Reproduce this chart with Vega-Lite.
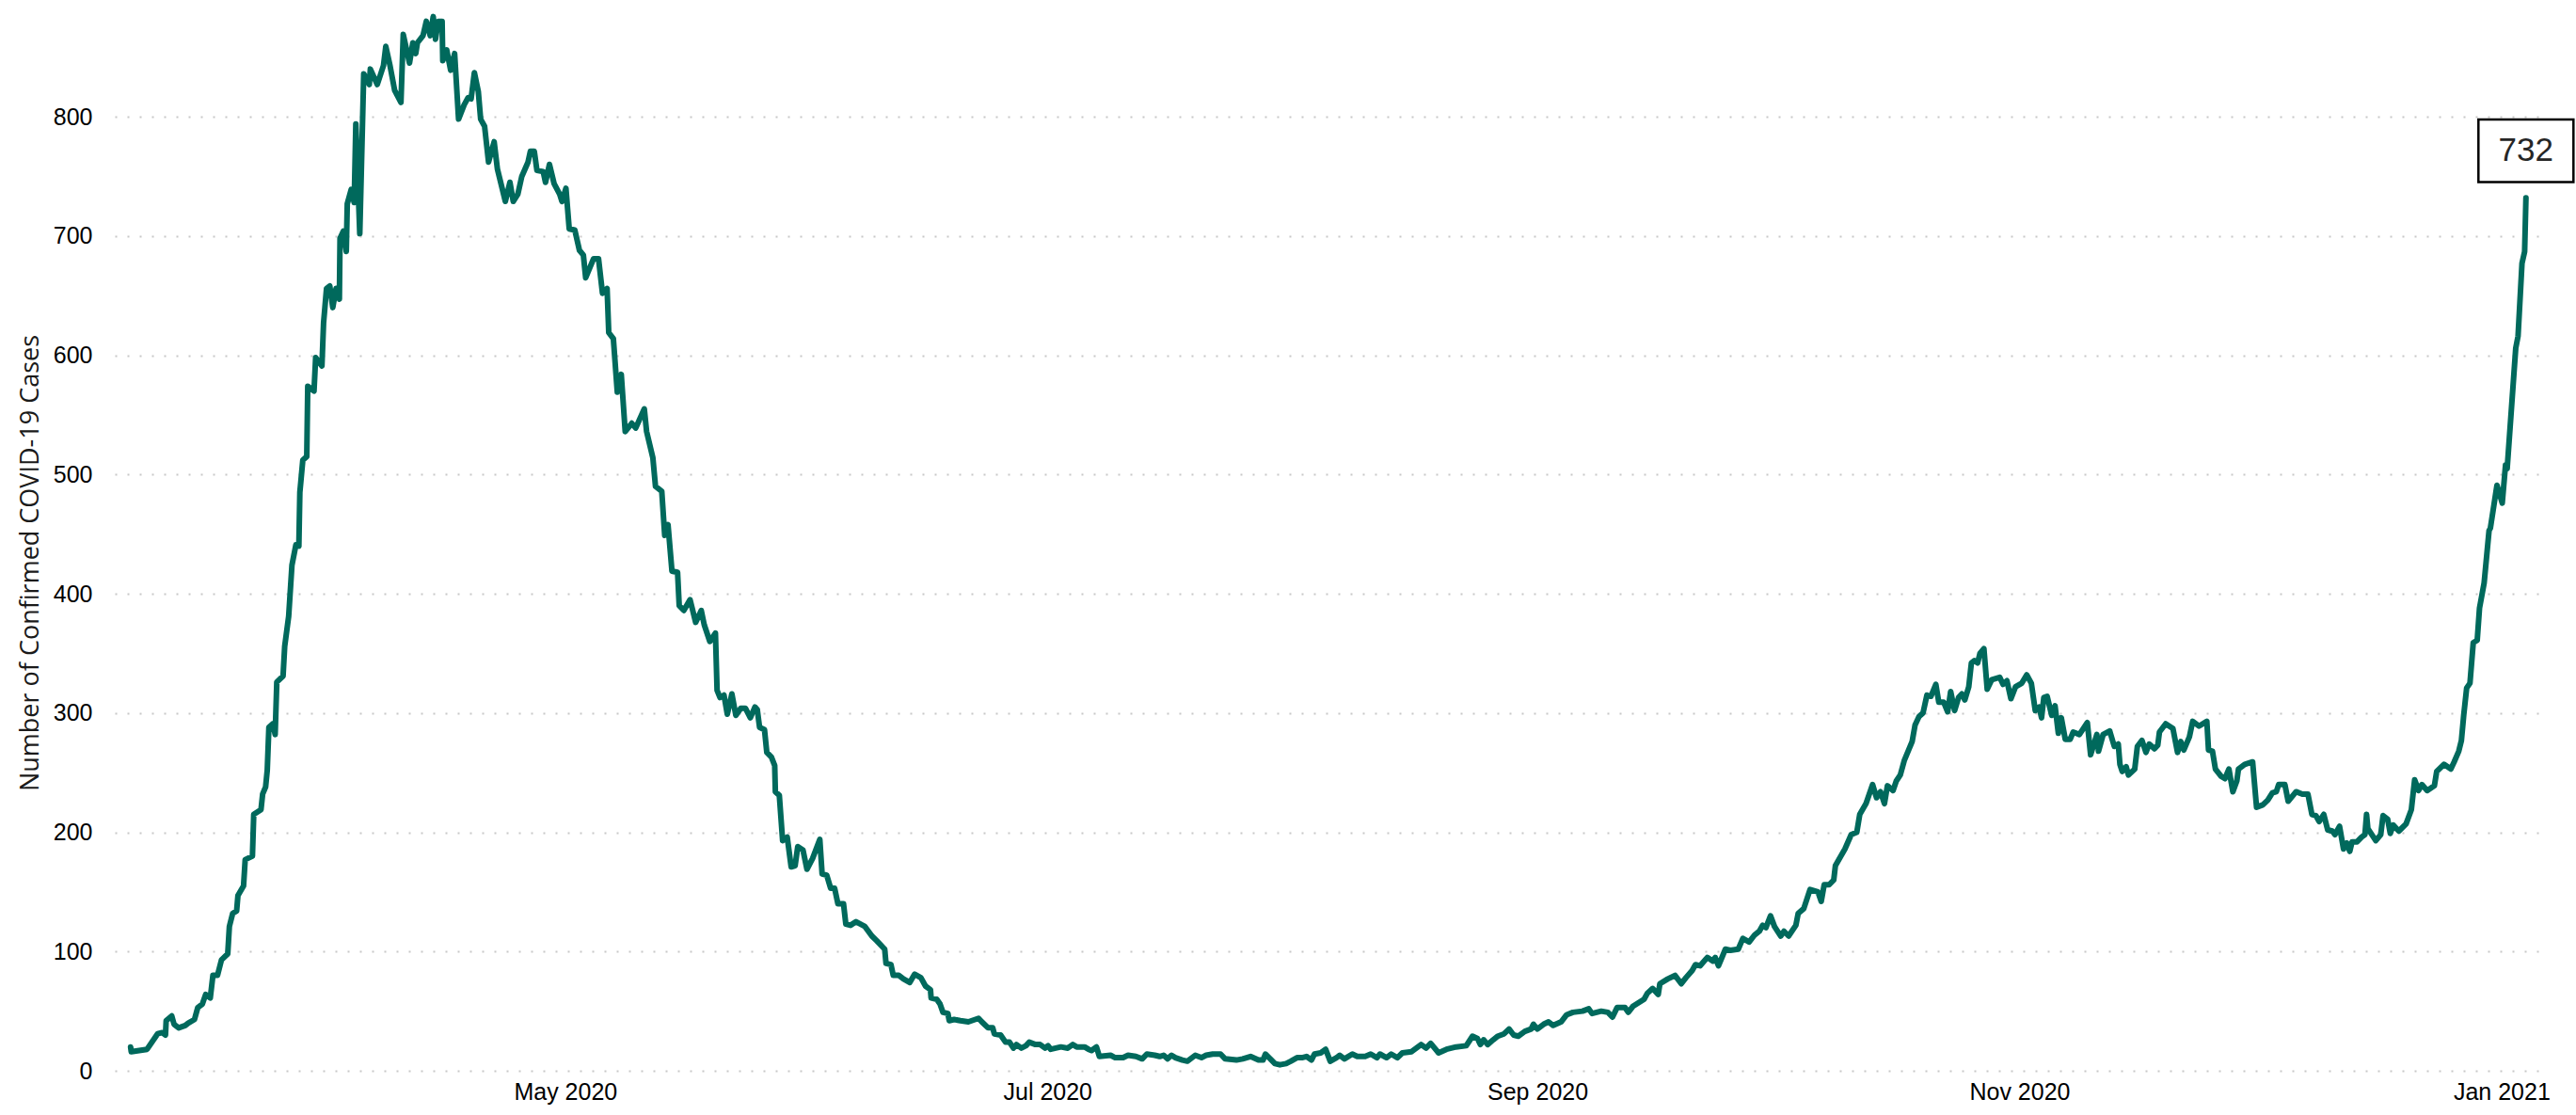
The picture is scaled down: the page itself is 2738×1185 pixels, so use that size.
{
  "$schema": "https://vega.github.io/schema/vega-lite/v6.json",
  "width": 2581,
  "height": 1128,
  "autosize": {"type": "none"},
  "padding": {"left": 122, "top": 10, "right": 35, "bottom": 47},
  "background": "white",
  "data": {
    "values": [
      {"date": "2020-03-07T00:00Z", "cases": 20}, {"date": "2020-03-07T02:00Z", "cases": 16}, {"date": "2020-03-09T02:00Z", "cases": 18},
      {"date": "2020-03-10T10:00Z", "cases": 31}, {"date": "2020-03-11T00:00Z", "cases": 32}, {"date": "2020-03-11T10:00Z", "cases": 30},
      {"date": "2020-03-11T12:00Z", "cases": 42}, {"date": "2020-03-12T05:00Z", "cases": 46}, {"date": "2020-03-12T12:00Z", "cases": 39},
      {"date": "2020-03-13T02:00Z", "cases": 36}, {"date": "2020-03-13T22:00Z", "cases": 38}, {"date": "2020-03-14T07:00Z", "cases": 40},
      {"date": "2020-03-15T02:00Z", "cases": 43}, {"date": "2020-03-15T12:00Z", "cases": 53}, {"date": "2020-03-16T02:00Z", "cases": 56},
      {"date": "2020-03-16T12:00Z", "cases": 64}, {"date": "2020-03-17T02:00Z", "cases": 61}, {"date": "2020-03-17T10:00Z", "cases": 80},
      {"date": "2020-03-18T00:00Z", "cases": 80}, {"date": "2020-03-18T12:00Z", "cases": 93}, {"date": "2020-03-19T07:00Z", "cases": 98},
      {"date": "2020-03-19T12:00Z", "cases": 121}, {"date": "2020-03-19T22:00Z", "cases": 132}, {"date": "2020-03-20T10:00Z", "cases": 134},
      {"date": "2020-03-20T14:00Z", "cases": 147}, {"date": "2020-03-21T07:00Z", "cases": 155}, {"date": "2020-03-21T12:00Z", "cases": 177},
      {"date": "2020-03-22T10:00Z", "cases": 180}, {"date": "2020-03-22T14:00Z", "cases": 215}, {"date": "2020-03-23T12:00Z", "cases": 219},
      {"date": "2020-03-23T17:00Z", "cases": 232}, {"date": "2020-03-24T02:00Z", "cases": 238}, {"date": "2020-03-24T07:00Z", "cases": 252},
      {"date": "2020-03-24T12:00Z", "cases": 288}, {"date": "2020-03-25T00:00Z", "cases": 291}, {"date": "2020-03-25T07:00Z", "cases": 282},
      {"date": "2020-03-25T12:00Z", "cases": 326}, {"date": "2020-03-26T07:00Z", "cases": 331}, {"date": "2020-03-26T12:00Z", "cases": 356},
      {"date": "2020-03-27T00:00Z", "cases": 381}, {"date": "2020-03-27T10:00Z", "cases": 424}, {"date": "2020-03-27T22:00Z", "cases": 441},
      {"date": "2020-03-28T07:00Z", "cases": 440}, {"date": "2020-03-28T10:00Z", "cases": 485}, {"date": "2020-03-28T19:00Z", "cases": 512},
      {"date": "2020-03-29T07:00Z", "cases": 515}, {"date": "2020-03-29T10:00Z", "cases": 574}, {"date": "2020-03-30T05:00Z", "cases": 570},
      {"date": "2020-03-30T10:00Z", "cases": 598}, {"date": "2020-03-31T05:00Z", "cases": 591}, {"date": "2020-03-31T10:00Z", "cases": 627},
      {"date": "2020-03-31T19:00Z", "cases": 656}, {"date": "2020-04-01T05:00Z", "cases": 658}, {"date": "2020-04-01T14:00Z", "cases": 640},
      {"date": "2020-04-02T00:00Z", "cases": 656}, {"date": "2020-04-02T10:00Z", "cases": 647}, {"date": "2020-04-02T12:00Z", "cases": 698},
      {"date": "2020-04-02T22:00Z", "cases": 704}, {"date": "2020-04-03T07:00Z", "cases": 687}, {"date": "2020-04-03T10:00Z", "cases": 727},
      {"date": "2020-04-03T22:00Z", "cases": 739}, {"date": "2020-04-04T07:00Z", "cases": 728}, {"date": "2020-04-04T12:00Z", "cases": 794},
      {"date": "2020-04-05T00:00Z", "cases": 702}, {"date": "2020-04-05T12:00Z", "cases": 836}, {"date": "2020-04-06T05:00Z", "cases": 827},
      {"date": "2020-04-06T08:00Z", "cases": 840}, {"date": "2020-04-07T05:00Z", "cases": 827}, {"date": "2020-04-08T00:00Z", "cases": 843},
      {"date": "2020-04-08T07:00Z", "cases": 859}, {"date": "2020-04-08T19:00Z", "cases": 844}, {"date": "2020-04-09T10:00Z", "cases": 822},
      {"date": "2020-04-10T05:00Z", "cases": 812}, {"date": "2020-04-10T12:00Z", "cases": 869}, {"date": "2020-04-11T07:00Z", "cases": 845},
      {"date": "2020-04-11T17:00Z", "cases": 862}, {"date": "2020-04-12T02:00Z", "cases": 853}, {"date": "2020-04-12T07:00Z", "cases": 862},
      {"date": "2020-04-13T00:00Z", "cases": 868}, {"date": "2020-04-13T10:00Z", "cases": 880}, {"date": "2020-04-13T22:00Z", "cases": 868},
      {"date": "2020-04-14T07:00Z", "cases": 884}, {"date": "2020-04-14T14:00Z", "cases": 865}, {"date": "2020-04-14T22:00Z", "cases": 880},
      {"date": "2020-04-15T10:00Z", "cases": 880}, {"date": "2020-04-15T12:00Z", "cases": 847}, {"date": "2020-04-16T00:00Z", "cases": 856},
      {"date": "2020-04-16T12:00Z", "cases": 839}, {"date": "2020-04-17T00:00Z", "cases": 853}, {"date": "2020-04-17T12:00Z", "cases": 798},
      {"date": "2020-04-18T05:00Z", "cases": 810}, {"date": "2020-04-18T17:00Z", "cases": 816}, {"date": "2020-04-19T02:00Z", "cases": 815},
      {"date": "2020-04-19T12:00Z", "cases": 837}, {"date": "2020-04-20T00:00Z", "cases": 821}, {"date": "2020-04-20T07:00Z", "cases": 798},
      {"date": "2020-04-20T19:00Z", "cases": 792}, {"date": "2020-04-21T07:00Z", "cases": 762}, {"date": "2020-04-22T00:00Z", "cases": 779},
      {"date": "2020-04-22T10:00Z", "cases": 756}, {"date": "2020-04-23T10:00Z", "cases": 729}, {"date": "2020-04-24T00:00Z", "cases": 745},
      {"date": "2020-04-24T10:00Z", "cases": 729}, {"date": "2020-04-25T00:00Z", "cases": 735}, {"date": "2020-04-25T12:00Z", "cases": 750},
      {"date": "2020-04-26T07:00Z", "cases": 762}, {"date": "2020-04-26T14:00Z", "cases": 771}, {"date": "2020-04-27T02:00Z", "cases": 771},
      {"date": "2020-04-27T10:00Z", "cases": 755}, {"date": "2020-04-28T05:00Z", "cases": 754}, {"date": "2020-04-28T12:00Z", "cases": 745},
      {"date": "2020-04-29T00:00Z", "cases": 760}, {"date": "2020-04-29T14:00Z", "cases": 744}, {"date": "2020-04-30T07:00Z", "cases": 735},
      {"date": "2020-04-30T14:00Z", "cases": 729}, {"date": "2020-05-01T02:00Z", "cases": 740}, {"date": "2020-05-01T12:00Z", "cases": 706},
      {"date": "2020-05-02T05:00Z", "cases": 705}, {"date": "2020-05-02T19:00Z", "cases": 688}, {"date": "2020-05-03T07:00Z", "cases": 684},
      {"date": "2020-05-03T14:00Z", "cases": 665}, {"date": "2020-05-04T14:00Z", "cases": 681}, {"date": "2020-05-05T05:00Z", "cases": 681},
      {"date": "2020-05-05T17:00Z", "cases": 652}, {"date": "2020-05-06T07:00Z", "cases": 656}, {"date": "2020-05-06T12:00Z", "cases": 619},
      {"date": "2020-05-07T02:00Z", "cases": 614}, {"date": "2020-05-07T14:00Z", "cases": 569}, {"date": "2020-05-08T02:00Z", "cases": 584},
      {"date": "2020-05-08T14:00Z", "cases": 536}, {"date": "2020-05-09T10:00Z", "cases": 543}, {"date": "2020-05-09T22:00Z", "cases": 539},
      {"date": "2020-05-11T00:00Z", "cases": 555}, {"date": "2020-05-11T07:00Z", "cases": 536}, {"date": "2020-05-12T02:00Z", "cases": 514},
      {"date": "2020-05-12T10:00Z", "cases": 490}, {"date": "2020-05-13T05:00Z", "cases": 486}, {"date": "2020-05-13T14:00Z", "cases": 449},
      {"date": "2020-05-14T00:00Z", "cases": 458}, {"date": "2020-05-14T12:00Z", "cases": 419}, {"date": "2020-05-15T05:00Z", "cases": 418},
      {"date": "2020-05-15T10:00Z", "cases": 390}, {"date": "2020-05-16T00:00Z", "cases": 386}, {"date": "2020-05-16T19:00Z", "cases": 395},
      {"date": "2020-05-17T12:00Z", "cases": 376}, {"date": "2020-05-18T05:00Z", "cases": 386}, {"date": "2020-05-18T14:00Z", "cases": 374},
      {"date": "2020-05-19T07:00Z", "cases": 360}, {"date": "2020-05-20T00:00Z", "cases": 367}, {"date": "2020-05-20T05:00Z", "cases": 319},
      {"date": "2020-05-20T14:00Z", "cases": 313}, {"date": "2020-05-21T02:00Z", "cases": 315}, {"date": "2020-05-21T12:00Z", "cases": 299},
      {"date": "2020-05-22T02:00Z", "cases": 316}, {"date": "2020-05-22T14:00Z", "cases": 298}, {"date": "2020-05-23T05:00Z", "cases": 304},
      {"date": "2020-05-23T19:00Z", "cases": 304}, {"date": "2020-05-24T10:00Z", "cases": 296}, {"date": "2020-05-25T00:00Z", "cases": 305},
      {"date": "2020-05-25T07:00Z", "cases": 303}, {"date": "2020-05-25T14:00Z", "cases": 288}, {"date": "2020-05-26T05:00Z", "cases": 286},
      {"date": "2020-05-26T12:00Z", "cases": 267}, {"date": "2020-05-27T02:00Z", "cases": 263}, {"date": "2020-05-27T12:00Z", "cases": 256},
      {"date": "2020-05-27T14:00Z", "cases": 234}, {"date": "2020-05-28T02:00Z", "cases": 231}, {"date": "2020-05-28T12:00Z", "cases": 193},
      {"date": "2020-05-29T02:00Z", "cases": 196}, {"date": "2020-05-29T14:00Z", "cases": 171}, {"date": "2020-05-30T02:00Z", "cases": 172},
      {"date": "2020-05-30T10:00Z", "cases": 188}, {"date": "2020-05-31T02:00Z", "cases": 185}, {"date": "2020-05-31T14:00Z", "cases": 169},
      {"date": "2020-06-01T07:00Z", "cases": 178}, {"date": "2020-06-02T05:00Z", "cases": 194}, {"date": "2020-06-02T12:00Z", "cases": 165},
      {"date": "2020-06-03T02:00Z", "cases": 164}, {"date": "2020-06-03T14:00Z", "cases": 153}, {"date": "2020-06-04T02:00Z", "cases": 153},
      {"date": "2020-06-04T12:00Z", "cases": 140}, {"date": "2020-06-05T05:00Z", "cases": 140}, {"date": "2020-06-05T12:00Z", "cases": 123},
      {"date": "2020-06-06T02:00Z", "cases": 122}, {"date": "2020-06-06T19:00Z", "cases": 125}, {"date": "2020-06-07T22:00Z", "cases": 121},
      {"date": "2020-06-08T19:00Z", "cases": 113}, {"date": "2020-06-09T10:00Z", "cases": 109}, {"date": "2020-06-10T10:00Z", "cases": 102},
      {"date": "2020-06-10T14:00Z", "cases": 90}, {"date": "2020-06-11T05:00Z", "cases": 89}, {"date": "2020-06-11T12:00Z", "cases": 80},
      {"date": "2020-06-12T05:00Z", "cases": 80}, {"date": "2020-06-12T19:00Z", "cases": 77}, {"date": "2020-06-13T14:00Z", "cases": 74},
      {"date": "2020-06-14T05:00Z", "cases": 81}, {"date": "2020-06-15T00:00Z", "cases": 78}, {"date": "2020-06-15T14:00Z", "cases": 71},
      {"date": "2020-06-16T05:00Z", "cases": 68}, {"date": "2020-06-16T07:00Z", "cases": 61}, {"date": "2020-06-17T00:00Z", "cases": 60},
      {"date": "2020-06-17T10:00Z", "cases": 56}, {"date": "2020-06-17T19:00Z", "cases": 49}, {"date": "2020-06-18T10:00Z", "cases": 48},
      {"date": "2020-06-18T14:00Z", "cases": 42}, {"date": "2020-06-19T05:00Z", "cases": 43}, {"date": "2020-06-20T00:00Z", "cases": 42},
      {"date": "2020-06-21T00:00Z", "cases": 41}, {"date": "2020-06-22T07:00Z", "cases": 44}, {"date": "2020-06-22T17:00Z", "cases": 41},
      {"date": "2020-06-23T12:00Z", "cases": 36}, {"date": "2020-06-24T02:00Z", "cases": 36}, {"date": "2020-06-24T07:00Z", "cases": 31},
      {"date": "2020-06-25T02:00Z", "cases": 30}, {"date": "2020-06-25T17:00Z", "cases": 24}, {"date": "2020-06-26T05:00Z", "cases": 24},
      {"date": "2020-06-26T17:00Z", "cases": 19}, {"date": "2020-06-27T02:00Z", "cases": 22}, {"date": "2020-06-27T17:00Z", "cases": 19},
      {"date": "2020-06-28T07:00Z", "cases": 21}, {"date": "2020-06-28T17:00Z", "cases": 24}, {"date": "2020-06-29T12:00Z", "cases": 22},
      {"date": "2020-06-30T02:00Z", "cases": 22}, {"date": "2020-06-30T17:00Z", "cases": 19}, {"date": "2020-07-01T02:00Z", "cases": 21},
      {"date": "2020-07-01T10:00Z", "cases": 18}, {"date": "2020-07-02T17:00Z", "cases": 20}, {"date": "2020-07-03T14:00Z", "cases": 19},
      {"date": "2020-07-04T05:00Z", "cases": 22}, {"date": "2020-07-04T17:00Z", "cases": 20}, {"date": "2020-07-05T17:00Z", "cases": 20},
      {"date": "2020-07-06T05:00Z", "cases": 18}, {"date": "2020-07-06T14:00Z", "cases": 17}, {"date": "2020-07-07T05:00Z", "cases": 20},
      {"date": "2020-07-07T14:00Z", "cases": 12}, {"date": "2020-07-09T00:00Z", "cases": 13}, {"date": "2020-07-09T14:00Z", "cases": 11},
      {"date": "2020-07-10T14:00Z", "cases": 11}, {"date": "2020-07-11T05:00Z", "cases": 13}, {"date": "2020-07-12T05:00Z", "cases": 12},
      {"date": "2020-07-13T00:00Z", "cases": 10}, {"date": "2020-07-13T14:00Z", "cases": 14}, {"date": "2020-07-14T14:00Z", "cases": 13},
      {"date": "2020-07-15T05:00Z", "cases": 12}, {"date": "2020-07-15T17:00Z", "cases": 13}, {"date": "2020-07-16T05:00Z", "cases": 10},
      {"date": "2020-07-16T17:00Z", "cases": 13}, {"date": "2020-07-17T05:00Z", "cases": 11}, {"date": "2020-07-18T02:00Z", "cases": 9},
      {"date": "2020-07-18T17:00Z", "cases": 8}, {"date": "2020-07-19T17:00Z", "cases": 13}, {"date": "2020-07-20T12:00Z", "cases": 11},
      {"date": "2020-07-21T02:00Z", "cases": 13}, {"date": "2020-07-21T22:00Z", "cases": 14}, {"date": "2020-07-22T22:00Z", "cases": 14},
      {"date": "2020-07-23T12:00Z", "cases": 10}, {"date": "2020-07-24T22:00Z", "cases": 9}, {"date": "2020-07-25T17:00Z", "cases": 10},
      {"date": "2020-07-26T17:00Z", "cases": 12}, {"date": "2020-07-27T17:00Z", "cases": 9}, {"date": "2020-07-28T07:00Z", "cases": 9},
      {"date": "2020-07-28T14:00Z", "cases": 14}, {"date": "2020-07-29T05:00Z", "cases": 10}, {"date": "2020-07-29T19:00Z", "cases": 6},
      {"date": "2020-07-30T10:00Z", "cases": 5}, {"date": "2020-07-31T05:00Z", "cases": 6}, {"date": "2020-07-31T19:00Z", "cases": 8},
      {"date": "2020-08-01T14:00Z", "cases": 11}, {"date": "2020-08-02T05:00Z", "cases": 11}, {"date": "2020-08-02T19:00Z", "cases": 12},
      {"date": "2020-08-03T10:00Z", "cases": 9}, {"date": "2020-08-03T19:00Z", "cases": 14}, {"date": "2020-08-04T14:00Z", "cases": 15},
      {"date": "2020-08-05T05:00Z", "cases": 18}, {"date": "2020-08-05T19:00Z", "cases": 8}, {"date": "2020-08-06T14:00Z", "cases": 11},
      {"date": "2020-08-07T00:00Z", "cases": 13}, {"date": "2020-08-07T14:00Z", "cases": 10}, {"date": "2020-08-08T14:00Z", "cases": 14},
      {"date": "2020-08-09T05:00Z", "cases": 12}, {"date": "2020-08-10T05:00Z", "cases": 12}, {"date": "2020-08-10T22:00Z", "cases": 14},
      {"date": "2020-08-11T17:00Z", "cases": 11}, {"date": "2020-08-12T02:00Z", "cases": 14}, {"date": "2020-08-12T22:00Z", "cases": 11},
      {"date": "2020-08-13T12:00Z", "cases": 14}, {"date": "2020-08-14T07:00Z", "cases": 11}, {"date": "2020-08-14T22:00Z", "cases": 15},
      {"date": "2020-08-16T02:00Z", "cases": 16}, {"date": "2020-08-17T07:00Z", "cases": 22}, {"date": "2020-08-17T22:00Z", "cases": 19},
      {"date": "2020-08-18T12:00Z", "cases": 23}, {"date": "2020-08-19T12:00Z", "cases": 15}, {"date": "2020-08-20T12:00Z", "cases": 18},
      {"date": "2020-08-21T17:00Z", "cases": 20}, {"date": "2020-08-23T00:00Z", "cases": 21}, {"date": "2020-08-23T19:00Z", "cases": 29},
      {"date": "2020-08-24T10:00Z", "cases": 27}, {"date": "2020-08-24T19:00Z", "cases": 22}, {"date": "2020-08-25T05:00Z", "cases": 26},
      {"date": "2020-08-25T17:00Z", "cases": 22}, {"date": "2020-08-26T10:00Z", "cases": 26}, {"date": "2020-08-27T00:00Z", "cases": 29},
      {"date": "2020-08-27T19:00Z", "cases": 31}, {"date": "2020-08-28T10:00Z", "cases": 35}, {"date": "2020-08-29T00:00Z", "cases": 30},
      {"date": "2020-08-29T14:00Z", "cases": 29}, {"date": "2020-08-30T10:00Z", "cases": 33}, {"date": "2020-08-31T05:00Z", "cases": 35},
      {"date": "2020-08-31T12:00Z", "cases": 39}, {"date": "2020-09-01T00:00Z", "cases": 35}, {"date": "2020-09-01T19:00Z", "cases": 39},
      {"date": "2020-09-02T10:00Z", "cases": 41}, {"date": "2020-09-03T00:00Z", "cases": 38}, {"date": "2020-09-04T00:00Z", "cases": 41},
      {"date": "2020-09-04T17:00Z", "cases": 47}, {"date": "2020-09-05T12:00Z", "cases": 49}, {"date": "2020-09-06T17:00Z", "cases": 50},
      {"date": "2020-09-07T12:00Z", "cases": 52}, {"date": "2020-09-07T22:00Z", "cases": 48}, {"date": "2020-09-09T02:00Z", "cases": 50},
      {"date": "2020-09-09T22:00Z", "cases": 49}, {"date": "2020-09-10T12:00Z", "cases": 45}, {"date": "2020-09-11T02:00Z", "cases": 53},
      {"date": "2020-09-12T02:00Z", "cases": 53}, {"date": "2020-09-12T12:00Z", "cases": 49}, {"date": "2020-09-13T02:00Z", "cases": 54},
      {"date": "2020-09-14T12:00Z", "cases": 60}, {"date": "2020-09-14T22:00Z", "cases": 65}, {"date": "2020-09-15T14:00Z", "cases": 69},
      {"date": "2020-09-16T07:00Z", "cases": 64}, {"date": "2020-09-16T12:00Z", "cases": 73}, {"date": "2020-09-17T12:00Z", "cases": 77},
      {"date": "2020-09-18T10:00Z", "cases": 80}, {"date": "2020-09-19T05:00Z", "cases": 73}, {"date": "2020-09-19T19:00Z", "cases": 78},
      {"date": "2020-09-20T14:00Z", "cases": 84}, {"date": "2020-09-21T00:00Z", "cases": 89}, {"date": "2020-09-21T14:00Z", "cases": 88},
      {"date": "2020-09-22T12:00Z", "cases": 95}, {"date": "2020-09-23T05:00Z", "cases": 92}, {"date": "2020-09-23T12:00Z", "cases": 95},
      {"date": "2020-09-23T22:00Z", "cases": 88}, {"date": "2020-09-24T19:00Z", "cases": 102}, {"date": "2020-09-25T10:00Z", "cases": 101},
      {"date": "2020-09-26T10:00Z", "cases": 102}, {"date": "2020-09-27T00:00Z", "cases": 111}, {"date": "2020-09-27T19:00Z", "cases": 108},
      {"date": "2020-09-28T12:00Z", "cases": 114}, {"date": "2020-09-29T02:00Z", "cases": 117}, {"date": "2020-09-29T12:00Z", "cases": 122},
      {"date": "2020-09-29T22:00Z", "cases": 120}, {"date": "2020-09-30T12:00Z", "cases": 130}, {"date": "2020-10-01T00:00Z", "cases": 121},
      {"date": "2020-10-01T19:00Z", "cases": 113}, {"date": "2020-10-02T05:00Z", "cases": 117}, {"date": "2020-10-02T19:00Z", "cases": 113},
      {"date": "2020-10-03T17:00Z", "cases": 122}, {"date": "2020-10-04T00:00Z", "cases": 132}, {"date": "2020-10-04T17:00Z", "cases": 136},
      {"date": "2020-10-05T12:00Z", "cases": 152}, {"date": "2020-10-06T12:00Z", "cases": 150}, {"date": "2020-10-06T22:00Z", "cases": 142},
      {"date": "2020-10-07T07:00Z", "cases": 156}, {"date": "2020-10-07T22:00Z", "cases": 156}, {"date": "2020-10-08T12:00Z", "cases": 160},
      {"date": "2020-10-08T17:00Z", "cases": 172}, {"date": "2020-10-09T22:00Z", "cases": 186}, {"date": "2020-10-10T17:00Z", "cases": 198},
      {"date": "2020-10-11T10:00Z", "cases": 200}, {"date": "2020-10-11T19:00Z", "cases": 215}, {"date": "2020-10-12T14:00Z", "cases": 224},
      {"date": "2020-10-13T10:00Z", "cases": 240}, {"date": "2020-10-13T22:00Z", "cases": 229}, {"date": "2020-10-14T10:00Z", "cases": 234},
      {"date": "2020-10-14T22:00Z", "cases": 224}, {"date": "2020-10-15T07:00Z", "cases": 239}, {"date": "2020-10-16T00:00Z", "cases": 235},
      {"date": "2020-10-16T10:00Z", "cases": 243}, {"date": "2020-10-16T22:00Z", "cases": 248}, {"date": "2020-10-17T10:00Z", "cases": 260},
      {"date": "2020-10-18T10:00Z", "cases": 276}, {"date": "2020-10-18T19:00Z", "cases": 290}, {"date": "2020-10-19T07:00Z", "cases": 297},
      {"date": "2020-10-19T19:00Z", "cases": 300}, {"date": "2020-10-20T07:00Z", "cases": 315}, {"date": "2020-10-20T19:00Z", "cases": 314},
      {"date": "2020-10-21T10:00Z", "cases": 324}, {"date": "2020-10-21T19:00Z", "cases": 309}, {"date": "2020-10-22T10:00Z", "cases": 309},
      {"date": "2020-10-22T22:00Z", "cases": 301}, {"date": "2020-10-23T07:00Z", "cases": 318}, {"date": "2020-10-23T19:00Z", "cases": 302},
      {"date": "2020-10-24T07:00Z", "cases": 313}, {"date": "2020-10-24T17:00Z", "cases": 316}, {"date": "2020-10-25T02:00Z", "cases": 311},
      {"date": "2020-10-25T14:00Z", "cases": 322}, {"date": "2020-10-25T22:00Z", "cases": 342}, {"date": "2020-10-26T07:00Z", "cases": 344},
      {"date": "2020-10-26T17:00Z", "cases": 342}, {"date": "2020-10-27T00:00Z", "cases": 350}, {"date": "2020-10-27T12:00Z", "cases": 354},
      {"date": "2020-10-27T22:00Z", "cases": 320}, {"date": "2020-10-28T12:00Z", "cases": 328}, {"date": "2020-10-29T12:00Z", "cases": 330},
      {"date": "2020-10-29T22:00Z", "cases": 324}, {"date": "2020-10-30T10:00Z", "cases": 327}, {"date": "2020-10-30T22:00Z", "cases": 312},
      {"date": "2020-10-31T12:00Z", "cases": 322}, {"date": "2020-11-01T07:00Z", "cases": 325}, {"date": "2020-11-01T22:00Z", "cases": 332},
      {"date": "2020-11-02T12:00Z", "cases": 325}, {"date": "2020-11-03T00:00Z", "cases": 302}, {"date": "2020-11-03T12:00Z", "cases": 305},
      {"date": "2020-11-03T19:00Z", "cases": 296}, {"date": "2020-11-04T02:00Z", "cases": 313}, {"date": "2020-11-04T12:00Z", "cases": 314},
      {"date": "2020-11-05T02:00Z", "cases": 298}, {"date": "2020-11-05T12:00Z", "cases": 306}, {"date": "2020-11-05T22:00Z", "cases": 283},
      {"date": "2020-11-06T07:00Z", "cases": 296}, {"date": "2020-11-06T19:00Z", "cases": 278}, {"date": "2020-11-07T10:00Z", "cases": 278},
      {"date": "2020-11-07T19:00Z", "cases": 284}, {"date": "2020-11-08T14:00Z", "cases": 282}, {"date": "2020-11-09T14:00Z", "cases": 292},
      {"date": "2020-11-10T00:00Z", "cases": 265}, {"date": "2020-11-10T19:00Z", "cases": 282}, {"date": "2020-11-11T00:00Z", "cases": 268},
      {"date": "2020-11-11T14:00Z", "cases": 282}, {"date": "2020-11-12T10:00Z", "cases": 285}, {"date": "2020-11-13T00:00Z", "cases": 272},
      {"date": "2020-11-13T12:00Z", "cases": 274}, {"date": "2020-11-13T17:00Z", "cases": 257}, {"date": "2020-11-14T00:00Z", "cases": 251},
      {"date": "2020-11-14T12:00Z", "cases": 255}, {"date": "2020-11-14T19:00Z", "cases": 248}, {"date": "2020-11-15T14:00Z", "cases": 253},
      {"date": "2020-11-15T22:00Z", "cases": 272}, {"date": "2020-11-16T12:00Z", "cases": 277}, {"date": "2020-11-17T00:00Z", "cases": 267},
      {"date": "2020-11-17T10:00Z", "cases": 274}, {"date": "2020-11-18T02:00Z", "cases": 270}, {"date": "2020-11-18T12:00Z", "cases": 273},
      {"date": "2020-11-18T17:00Z", "cases": 284}, {"date": "2020-11-19T12:00Z", "cases": 291}, {"date": "2020-11-20T10:00Z", "cases": 287},
      {"date": "2020-11-21T00:00Z", "cases": 267}, {"date": "2020-11-21T10:00Z", "cases": 276}, {"date": "2020-11-21T19:00Z", "cases": 269},
      {"date": "2020-11-22T12:00Z", "cases": 280}, {"date": "2020-11-22T22:00Z", "cases": 293}, {"date": "2020-11-23T17:00Z", "cases": 289},
      {"date": "2020-11-24T17:00Z", "cases": 293}, {"date": "2020-11-24T22:00Z", "cases": 269}, {"date": "2020-11-25T10:00Z", "cases": 268},
      {"date": "2020-11-25T19:00Z", "cases": 253}, {"date": "2020-11-26T12:00Z", "cases": 247}, {"date": "2020-11-27T00:00Z", "cases": 245},
      {"date": "2020-11-27T12:00Z", "cases": 253}, {"date": "2020-11-28T00:00Z", "cases": 234}, {"date": "2020-11-28T12:00Z", "cases": 243},
      {"date": "2020-11-28T17:00Z", "cases": 253}, {"date": "2020-11-29T12:00Z", "cases": 257}, {"date": "2020-11-30T12:00Z", "cases": 259},
      {"date": "2020-12-01T00:00Z", "cases": 221}, {"date": "2020-12-01T19:00Z", "cases": 223}, {"date": "2020-12-02T10:00Z", "cases": 227},
      {"date": "2020-12-03T00:00Z", "cases": 233}, {"date": "2020-12-03T12:00Z", "cases": 234}, {"date": "2020-12-03T19:00Z", "cases": 240},
      {"date": "2020-12-04T14:00Z", "cases": 240}, {"date": "2020-12-05T00:00Z", "cases": 226}, {"date": "2020-12-06T00:00Z", "cases": 234},
      {"date": "2020-12-06T19:00Z", "cases": 232}, {"date": "2020-12-07T12:00Z", "cases": 232}, {"date": "2020-12-08T00:00Z", "cases": 215},
      {"date": "2020-12-08T12:00Z", "cases": 214}, {"date": "2020-12-08T22:00Z", "cases": 209}, {"date": "2020-12-09T12:00Z", "cases": 215},
      {"date": "2020-12-10T00:00Z", "cases": 202}, {"date": "2020-12-10T14:00Z", "cases": 201}, {"date": "2020-12-10T22:00Z", "cases": 198},
      {"date": "2020-12-11T12:00Z", "cases": 205}, {"date": "2020-12-12T00:00Z", "cases": 186}, {"date": "2020-12-12T10:00Z", "cases": 191},
      {"date": "2020-12-12T19:00Z", "cases": 184}, {"date": "2020-12-13T02:00Z", "cases": 192}, {"date": "2020-12-13T17:00Z", "cases": 192},
      {"date": "2020-12-14T07:00Z", "cases": 196}, {"date": "2020-12-14T17:00Z", "cases": 198}, {"date": "2020-12-14T22:00Z", "cases": 215},
      {"date": "2020-12-15T02:00Z", "cases": 203}, {"date": "2020-12-16T02:00Z", "cases": 193}, {"date": "2020-12-16T17:00Z", "cases": 198},
      {"date": "2020-12-17T00:00Z", "cases": 214}, {"date": "2020-12-17T14:00Z", "cases": 211}, {"date": "2020-12-17T22:00Z", "cases": 199},
      {"date": "2020-12-18T07:00Z", "cases": 206}, {"date": "2020-12-19T00:00Z", "cases": 201}, {"date": "2020-12-19T22:00Z", "cases": 207},
      {"date": "2020-12-20T14:00Z", "cases": 219}, {"date": "2020-12-21T00:00Z", "cases": 244}, {"date": "2020-12-21T12:00Z", "cases": 235},
      {"date": "2020-12-21T22:00Z", "cases": 240}, {"date": "2020-12-22T14:00Z", "cases": 235}, {"date": "2020-12-23T12:00Z", "cases": 239},
      {"date": "2020-12-23T19:00Z", "cases": 251}, {"date": "2020-12-24T17:00Z", "cases": 257}, {"date": "2020-12-25T14:00Z", "cases": 253},
      {"date": "2020-12-26T00:00Z", "cases": 259}, {"date": "2020-12-26T14:00Z", "cases": 268}, {"date": "2020-12-26T22:00Z", "cases": 277},
      {"date": "2020-12-27T05:00Z", "cases": 298}, {"date": "2020-12-27T14:00Z", "cases": 321}, {"date": "2020-12-28T00:00Z", "cases": 325},
      {"date": "2020-12-28T10:00Z", "cases": 359}, {"date": "2020-12-28T22:00Z", "cases": 361}, {"date": "2020-12-29T05:00Z", "cases": 388},
      {"date": "2020-12-29T19:00Z", "cases": 409}, {"date": "2020-12-30T10:00Z", "cases": 453}, {"date": "2020-12-30T14:00Z", "cases": 455},
      {"date": "2020-12-31T10:00Z", "cases": 491}, {"date": "2021-01-01T02:00Z", "cases": 476}, {"date": "2021-01-01T12:00Z", "cases": 508},
      {"date": "2021-01-01T17:00Z", "cases": 505}, {"date": "2021-01-02T19:00Z", "cases": 606}, {"date": "2021-01-03T02:00Z", "cases": 616},
      {"date": "2021-01-03T14:00Z", "cases": 677}, {"date": "2021-01-03T22:00Z", "cases": 687}, {"date": "2021-01-04T02:00Z", "cases": 732}
    ]
  },
  "encoding": {
    "x": {
      "field": "date",
      "type": "temporal",
      "scale": {
        "type": "utc",
        "domain": [
          {"year": 2020, "month": "mar", "date": 5, "utc": true},
          {"year": 2021, "month": "jan", "date": 6, "hours": 6, "utc": true}
        ]
      },
      "axis": {
        "title": null,
        "format": "%b %Y",
        "tickCount": {"interval": "month", "step": 2},
        "grid": false,
        "labelPadding": 10
      }
    },
    "y": {
      "field": "cases",
      "type": "quantitative",
      "scale": {"domain": [0, 890], "nice": false},
      "axis": {
        "title": "Number of Confirmed COVID-19 Cases",
        "values": [0, 100, 200, 300, 400, 500, 600, 700, 800],
        "grid": true,
        "labelPadding": 24,
        "titlePadding": 10,
        "titleY": 588
      }
    }
  },
  "layer": [
    {
      "mark": {"type": "line", "color": "#00695C", "strokeWidth": 6, "strokeCap": "round", "strokeJoin": "round"}
    },
    {
      "transform": [
        {"joinaggregate": [{"op": "max", "field": "date", "as": "last"}]},
        {"filter": "time(datum.date) === time(datum.last)"}
      ],
      "mark": {
        "type": "point",
        "shape": "M-1,-0.66L1,-0.66L1,0.66L-1,0.66Z",
        "size": 10201,
        "filled": true,
        "fill": "white",
        "stroke": "black",
        "strokeWidth": 2.5,
        "opacity": 1,
        "yOffset": -50
      }
    },
    {
      "transform": [
        {"joinaggregate": [{"op": "max", "field": "date", "as": "last"}]},
        {"filter": "time(datum.date) === time(datum.last)"}
      ],
      "mark": {"type": "text", "font": "Liberation Sans", "fontSize": 35, "color": "#262626", "baseline": "middle", "yOffset": -50},
      "encoding": {"text": {"field": "cases", "type": "quantitative"}}
    }
  ],
  "config": {
    "view": {"stroke": null},
    "axis": {
      "domain": false,
      "ticks": false,
      "tickSize": 0,
      "labelFont": "Liberation Sans",
      "labelFontSize": 25,
      "labelColor": "#000000",
      "titleFont": "Open Sans",
      "titleFontSize": 27,
      "titleFontWeight": "normal",
      "titleColor": "#1a1a1a",
      "gridColor": "#c8c8c8",
      "gridDash": [2, 11],
      "gridWidth": 2
    }
  }
}
